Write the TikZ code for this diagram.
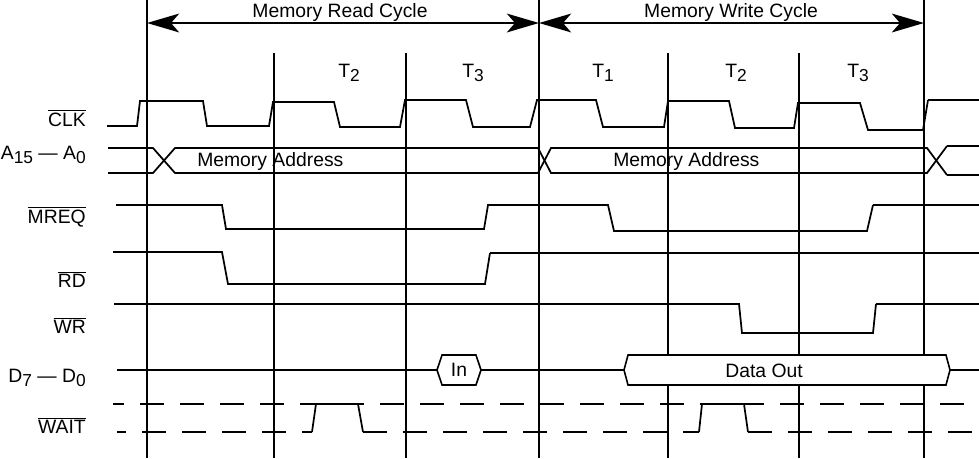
\documentclass[tikz,border=0pt]{standalone}
\usepackage{fontspec}
\setmainfont{Liberation Sans}
\usetikzlibrary{arrows.meta, shapes.symbols}
\newcommand{\lowidx}[1]{\raisebox{-3pt}{\fontsize{13}{14}\selectfont #1}}
\newcommand{\barsig}[1]{$\overline{\mbox{#1}}$}

\begin{document}
\begin{tikzpicture}[
    x=0.75pt, y=-0.75pt,
    font=\fontsize{14.5}{17}\selectfont,
    boundary/.style={line width=2.2pt},
    wave/.style={line width=1.3pt},
    wavethick/.style={line width=2.2pt},
    waitline/.style={line width=2.2pt, dash pattern=on 18pt off 12pt},
    cyclearrow/.style={{Stealth[length=24pt,width=14pt,inset=6pt]}-{Stealth[length=24pt,width=14pt,inset=6pt]}, line width=2.2pt},
    siglabel/.style={anchor=base east, inner sep=0pt},
    tlabel/.style={anchor=base west, inner sep=0pt},
    bus/.style={signal, signal to=west and east, draw, fill=white, line width=1.2pt,
                inner sep=0pt, outer sep=0pt, minimum height=22.5pt}
]
\useasboundingbox (0,0) rectangle (979,458);

\foreach \x in {147,539,924} \draw[boundary] (\x,0) -- (\x,458);
\foreach \x in {274,406,668,799} \draw[boundary] (\x,53) -- (\x,458);

\coordinate (c0) at (147,23);
\coordinate (c1) at (539,23);
\coordinate (c2) at (924,23);
\draw[cyclearrow] (c0) -- (c1);
\draw[cyclearrow] (c1) -- (c2);
\node[anchor=base, inner sep=0pt] (readcyc) at (340,17) {Memory Read Cycle};
\node[anchor=base, inner sep=0pt] (writecyc) at (731,17) {Memory Write Cycle};

\node[tlabel] (rt2) at (338,77) {T\lowidx{2}};
\node[tlabel] (rt3) at (462,77) {T\lowidx{3}};
\node[tlabel] (wt1) at (592,77) {T\lowidx{1}};
\node[tlabel] (wt2) at (725,77) {T\lowidx{2}};
\node[tlabel] (wt3) at (847,77) {T\lowidx{3}};

\node[siglabel] (lclk) at (86,126) {\barsig{CLK}};
\node[siglabel] (laddr) at (86,159) {A\lowidx{15} --- A\lowidx{0}};
\node[siglabel] (lmreq) at (86,223) {\barsig{MREQ}};
\node[siglabel] (lrd) at (86,287) {\barsig{RD}};
\node[siglabel] (lwr) at (86,333) {\barsig{WR}};
\node[siglabel] (ldata) at (86,382) {D\lowidx{7} --- D\lowidx{0}};
\node[siglabel] (lwait) at (86,433) {\barsig{WAIT}};

\draw[wave] (107,126) -- (137,126) -- (140,101) -- (203,101) -- (207,126) -- (269,126)
    -- (273,102) -- (334,102) -- (340,127) -- (400,127) -- (405,100) -- (466,100)
    -- (473,127) -- (530,127) -- (537,100) -- (596,100) -- (603,127) -- (664,127)
    -- (668,101) -- (729,101) -- (735,128) -- (794,128) -- (798,103) -- (860,103)
    -- (868,130) -- (923,130) -- (928,100);
\draw[wavethick] (928,100) -- (979,100);

\draw[wave] (108,148) -- (153,148) -- (175,173) -- (538,173) -- (551,148) -- (927,148) -- (947,175);
\draw[wave] (108,173) -- (153,173) -- (175,148) -- (538,148) -- (551,173) -- (927,173) -- (947,146);
\draw[wavethick] (947,146) -- (979,146);
\draw[wavethick] (947,175) -- (979,175);
\node[tlabel] (raddr) at (197,166) {Memory Address};
\node[tlabel] (waddr) at (613,166) {Memory Address};

\draw[wave] (116,205) -- (222,205) -- (226,229) -- (484,229) -- (488,205) -- (608,205)
    -- (614,231) -- (867,231) -- (873,205);
\draw[wavethick] (873,205) -- (979,205);

\draw[wave] (113,252) -- (222,252) -- (228,284) -- (485,284) -- (490,253);
\draw[wavethick] (490,253) -- (979,253);

\draw[wave] (114,304) -- (739,304) -- (742,333) -- (873,333) -- (876,304);
\draw[wavethick] (876,304) -- (979,304);

\coordinate (dstart) at (117,370);
\coordinate (dend) at (979,370);
\node[bus, minimum width=33pt, signal pointer angle=143] (din) at (459,370) {In};
\node[bus, minimum width=244.5pt, signal pointer angle=150] (dout) at (787,370) {};
\node (douttext) at (764,371) {Data Out};
\draw[wavethick] (dstart) -- (din.west);
\draw[wavethick] (din.east) -- (dout.west);
\draw[wavethick] (dout.east) -- (dend);

\draw[waitline, dash phase=9.75pt] (113,404) -- (979,404);
\draw[waitline, dash phase=11pt] (117,432) -- (312,432);
\draw[waitline] (363,432) -- (699,432);
\draw[waitline] (748,432) -- (979,432);
\draw[wave] (312,432) -- (316,404) -- (358,404) -- (363,432);
\draw[wave] (699,432) -- (702,404) -- (744,404) -- (748,432);

\end{tikzpicture}
\end{document}
